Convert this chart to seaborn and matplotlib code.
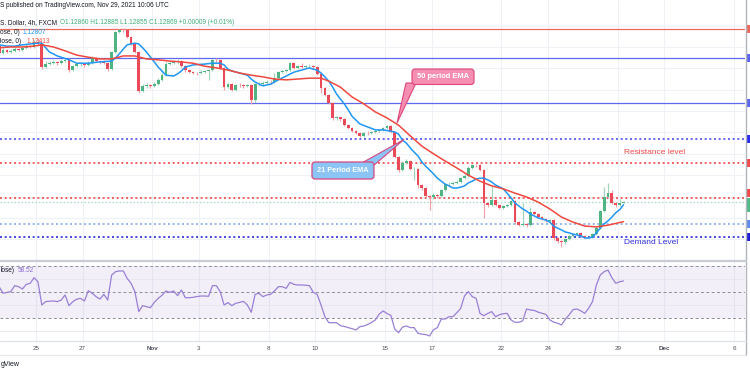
import numpy as np
import pandas as pd
import matplotlib
matplotlib.use("Agg")
import matplotlib.pyplot as plt
import seaborn as sns
from matplotlib.patches import FancyBboxPatch, Polygon, Rectangle

# ---------------- data ----------------
first_open = 1.1652
closes = [
    1.1636, 1.1643, 1.1638, 1.1641, 1.1645, 1.1643, 1.1648, 1.1652, 1.1650, 1.1662,
    1.1657, 1.1603, 1.1610, 1.1612, 1.1615, 1.1612, 1.1617, 1.1620, 1.1596, 1.1605,
    1.1610, 1.1610, 1.1608, 1.1612, 1.1624, 1.1617, 1.1615, 1.1612, 1.1598, 1.1638,
    1.1685, 1.1690, 1.1689, 1.1673, 1.1657, 1.1638, 1.1547, 1.1559, 1.1561, 1.1559,
    1.1563, 1.1573, 1.1584, 1.1610, 1.1612, 1.1615, 1.1617, 1.1605, 1.1596, 1.1591,
    1.1589, 1.1588, 1.1591, 1.1594, 1.1596, 1.1620, 1.1619, 1.1601, 1.1556, 1.1563,
    1.1549, 1.1561, 1.1560, 1.1559, 1.1561, 1.1526, 1.1563, 1.1564, 1.1566, 1.1568,
    1.1567, 1.1577, 1.1591, 1.1594, 1.1596, 1.1612, 1.1601, 1.1605, 1.1603, 1.1605,
    1.1606, 1.1603, 1.1587, 1.1554, 1.1538, 1.1519, 1.1484, 1.1485, 1.1481, 1.1467,
    1.1460, 1.1453, 1.1449, 1.1442, 1.1449, 1.1448, 1.1451, 1.1453, 1.1456, 1.1460,
    1.1465, 1.1451, 1.1393, 1.1362, 1.1379, 1.1383, 1.1364, 1.1365, 1.1327, 1.1320,
    1.1301, 1.1299, 1.1304, 1.1301, 1.1315, 1.1329, 1.1330, 1.1332, 1.1334, 1.1343,
    1.1348, 1.1367, 1.1374, 1.1373, 1.1362, 1.1285, 1.1280, 1.1292, 1.1280, 1.1273,
    1.1278, 1.1281, 1.1290, 1.1240, 1.1233, 1.1236, 1.1234, 1.1264, 1.1259, 1.1252,
    1.1247, 1.1243, 1.1245, 1.1203, 1.1196, 1.1194, 1.1201, 1.1208, 1.1212, 1.1215,
    1.1208, 1.1205, 1.1206, 1.1212, 1.1226, 1.1266, 1.1299, 1.1308, 1.1285, 1.1280,
    1.1286, 1.12869]
highs = [
    1.1657, 1.1648, 1.1645, 1.1645, 1.1650, 1.1648, 1.1652, 1.1657, 1.1655, 1.1666,
    1.1671, 1.1659, 1.1617, 1.1617, 1.1620, 1.1617, 1.1622, 1.1624, 1.1624, 1.1608,
    1.1612, 1.1615, 1.1612, 1.1617, 1.1629, 1.1627, 1.1620, 1.1620, 1.1615, 1.1641,
    1.1687, 1.1692, 1.1694, 1.1692, 1.1676, 1.1659, 1.1641, 1.1563, 1.1566, 1.1563,
    1.1568, 1.1577, 1.1589, 1.1615, 1.1617, 1.1620, 1.1622, 1.1620, 1.1608, 1.1598,
    1.1594, 1.1591, 1.1596, 1.1596, 1.1598, 1.1622, 1.1624, 1.1622, 1.1603, 1.1566,
    1.1566, 1.1563, 1.1566, 1.1563, 1.1563, 1.1563, 1.1566, 1.1568, 1.1570, 1.1573,
    1.1573, 1.1589, 1.1594, 1.1596, 1.1598, 1.1615, 1.1615, 1.1608, 1.1612, 1.1608,
    1.1610, 1.1608, 1.1605, 1.1589, 1.1556, 1.1540, 1.1521, 1.1488, 1.1486, 1.1484,
    1.1470, 1.1463, 1.1456, 1.1451, 1.1451, 1.1453, 1.1453, 1.1456, 1.1458, 1.1463,
    1.1467, 1.1467, 1.1453, 1.1395, 1.1383, 1.1388, 1.1386, 1.1369, 1.1367, 1.1329,
    1.1322, 1.1304, 1.1308, 1.1306, 1.1318, 1.1332, 1.1334, 1.1336, 1.1339, 1.1346,
    1.1353, 1.1371, 1.1376, 1.1376, 1.1376, 1.1364, 1.1287, 1.1325, 1.1294, 1.1283,
    1.1280, 1.1283, 1.1292, 1.1292, 1.1243, 1.1285, 1.1238, 1.1276, 1.1266, 1.1262,
    1.1254, 1.1250, 1.1247, 1.1247, 1.1205, 1.1198, 1.1203, 1.1210, 1.1215, 1.1217,
    1.1217, 1.1210, 1.1208, 1.1215, 1.1229, 1.1269, 1.1322, 1.1332, 1.1315, 1.1287,
    1.1294, 1.12885]
lows = [
    1.1631, 1.1634, 1.1636, 1.1636, 1.1638, 1.1641, 1.1641, 1.1645, 1.1648, 1.1648,
    1.1655, 1.1598, 1.1601, 1.1608, 1.1610, 1.1608, 1.1610, 1.1615, 1.1591, 1.1594,
    1.1603, 1.1605, 1.1603, 1.1605, 1.1610, 1.1615, 1.1610, 1.1610, 1.1594, 1.1596,
    1.1636, 1.1683, 1.1685, 1.1671, 1.1655, 1.1636, 1.1542, 1.1545, 1.1554, 1.1554,
    1.1556, 1.1561, 1.1570, 1.1582, 1.1608, 1.1610, 1.1610, 1.1603, 1.1591, 1.1589,
    1.1587, 1.1584, 1.1587, 1.1589, 1.1573, 1.1594, 1.1615, 1.1598, 1.1549, 1.1554,
    1.1547, 1.1547, 1.1556, 1.1554, 1.1556, 1.1517, 1.1521, 1.1559, 1.1561, 1.1563,
    1.1563, 1.1566, 1.1575, 1.1589, 1.1591, 1.1594, 1.1598, 1.1598, 1.1601, 1.1601,
    1.1601, 1.1598, 1.1584, 1.1542, 1.1535, 1.1517, 1.1479, 1.1479, 1.1477, 1.1465,
    1.1458, 1.1451, 1.1446, 1.1439, 1.1439, 1.1444, 1.1446, 1.1449, 1.1451, 1.1453,
    1.1458, 1.1449, 1.1390, 1.1357, 1.1360, 1.1376, 1.1362, 1.1339, 1.1320, 1.1315,
    1.1299, 1.1269, 1.1294, 1.1297, 1.1299, 1.1313, 1.1325, 1.1327, 1.1329, 1.1332,
    1.1341, 1.1346, 1.1364, 1.1369, 1.1360, 1.1250, 1.1276, 1.1278, 1.1278, 1.1271,
    1.1271, 1.1276, 1.1278, 1.1236, 1.1231, 1.1231, 1.1229, 1.1231, 1.1257, 1.1250,
    1.1245, 1.1240, 1.1240, 1.1198, 1.1191, 1.1182, 1.1189, 1.1198, 1.1205, 1.1210,
    1.1205, 1.1203, 1.1203, 1.1203, 1.1210, 1.1224, 1.1264, 1.1297, 1.1283, 1.1276,
    1.1278, 1.12855]

ema21_bars = [0, 2, 4, 6, 8, 10, 11, 12, 13, 15, 18, 20, 23, 26, 29, 30, 31, 32, 33, 35,
              36, 37, 38, 40, 41, 43, 45, 46, 47, 48, 50, 53, 55, 57, 58, 59, 60, 62, 64, 65,
              66, 68, 70, 72, 74, 76, 78, 80, 81, 82, 83, 84, 85, 86, 87, 88, 89, 90, 91, 92,
              93, 95, 97, 99, 101, 102, 103, 104, 105, 106, 107, 108, 109, 110, 111, 112, 113, 114, 115, 116,
              117, 118, 119, 120, 121, 122, 123, 124, 125, 126, 127, 128, 130, 132, 133, 134, 135, 136, 137, 139,
              141, 142, 143, 144, 145, 146, 147, 148, 149, 150, 151, 152, 153, 154, 155, 156, 157, 158, 159, 160,
              161]
ema21_vals = [1.1655, 1.1652, 1.1652, 1.1655, 1.1657, 1.1659, 1.1659, 1.1648, 1.1638, 1.1629,
              1.1620, 1.1612, 1.1612, 1.1615, 1.1617, 1.1624, 1.1634, 1.1645, 1.1655, 1.1659,
              1.1657, 1.1648, 1.1638, 1.1615, 1.1603, 1.1584, 1.1582, 1.1587, 1.1594, 1.1603,
              1.1608, 1.1610, 1.1612, 1.1612, 1.1608, 1.1598, 1.1594, 1.1589, 1.1584, 1.1575,
              1.1568, 1.1559, 1.1563, 1.1573, 1.1582, 1.1591, 1.1596, 1.1601, 1.1598, 1.1596,
              1.1589, 1.1580, 1.1570, 1.1556, 1.1540, 1.1528, 1.1517, 1.1503, 1.1488, 1.1479,
              1.1470, 1.1463, 1.1456, 1.1456, 1.1453, 1.1451, 1.1446, 1.1432, 1.1425, 1.1414,
              1.1404, 1.1395, 1.1381, 1.1371, 1.1362, 1.1353, 1.1343, 1.1336, 1.1329, 1.1325,
              1.1320, 1.1320, 1.1322, 1.1325, 1.1332, 1.1336, 1.1341, 1.1343, 1.1343, 1.1339,
              1.1334, 1.1327, 1.1318, 1.1297, 1.1285, 1.1278, 1.1271, 1.1266, 1.1259, 1.1250,
              1.1245, 1.1240, 1.1231, 1.1226, 1.1222, 1.1217, 1.1215, 1.1212, 1.1210, 1.1208,
              1.1203, 1.1203, 1.1205, 1.1215, 1.1226, 1.1236, 1.1243, 1.1252, 1.1262, 1.1269,
              1.12807]
ema50_bars = [0, 3, 6, 9, 11, 14, 17, 20, 23, 26, 29, 32, 35, 38, 41, 44, 47, 50, 53, 56,
              59, 62, 65, 68, 71, 74, 77, 80, 83, 85, 88, 91, 94, 97, 100, 103, 106, 109, 112, 115,
              118, 121, 124, 127, 130, 133, 136, 139, 142, 145, 148, 151, 154, 157, 161]
ema50_vals = [1.1648, 1.1650, 1.1650, 1.1652, 1.1655, 1.1650, 1.1641, 1.1631, 1.1626, 1.1622,
              1.1622, 1.1629, 1.1629, 1.1622, 1.1620, 1.1617, 1.1615, 1.1612, 1.1605, 1.1601,
              1.1596, 1.1589, 1.1584, 1.1580, 1.1575, 1.1573, 1.1575, 1.1577, 1.1577, 1.1570,
              1.1556, 1.1533, 1.1517, 1.1498, 1.1484, 1.1467, 1.1442, 1.1418, 1.1400, 1.1383,
              1.1367, 1.1350, 1.1336, 1.1325, 1.1318, 1.1308, 1.1299, 1.1287, 1.1271, 1.1252,
              1.1240, 1.1231, 1.1229, 1.1233, 1.12413]

rsi = [
    54.1, 49.0, 49.7, 50.3, 54.9, 54.1, 52.3, 55.9, 56.7, 61.0,
    57.9, 40.0, 42.6, 42.9, 43.1, 42.6, 43.8, 47.7, 39.5, 42.6,
    44.5, 45.1, 43.1, 51.0, 49.0, 46.4, 44.6, 48.2, 43.8, 63.0,
    65.6, 66.2, 66.2, 60.5, 56.7, 50.3, 34.9, 39.5, 38.7, 37.9,
    42.0, 45.1, 47.5, 50.8, 49.7, 50.8, 47.2, 51.5, 45.6, 45.6,
    45.9, 46.5, 46.9, 46.9, 46.7, 54.9, 54.9, 50.3, 40.0, 41.8,
    39.5, 41.3, 42.0, 42.8, 40.0, 34.4, 48.2, 49.0, 46.4, 47.7,
    48.2, 50.8, 54.1, 54.1, 52.8, 57.4, 55.9, 55.4, 55.4, 55.2,
    54.9, 49.7, 48.2, 40.0, 31.0, 26.4, 26.4, 26.4, 24.1, 23.5,
    22.6, 21.8, 20.8, 23.3, 23.8, 25.0, 26.5, 28.5, 33.0, 35.4,
    33.5, 32.0, 21.5, 18.7, 23.0, 23.8, 22.6, 22.6, 18.2, 17.6,
    17.2, 16.2, 21.0, 22.6, 29.2, 29.2, 31.0, 31.0, 34.0, 37.4,
    47.0, 50.3, 46.4, 45.1, 33.5, 31.8, 33.5, 34.9, 31.0, 32.5,
    33.3, 33.6, 28.5, 26.7, 26.7, 27.8, 36.9, 36.2, 35.8, 34.5,
    33.6, 32.8, 28.5, 26.8, 26.0, 24.6, 29.0, 32.5, 36.5, 36.9,
    35.5, 33.6, 37.5, 42.6, 55.4, 63.1, 65.6, 66.9, 61.0, 56.7,
    57.9, 58.52]

date_labels = ["25", "27", "Nov", "3", "8", "10", "15", "17", "22", "24", "29", "Dec", "6"]
date_bars = [9.5, 21.5, 39.5, 51.5, 69.5, 81.5, 99.5, 111.5, 129.5, 141.5, 159.5, 171.5, 189.5]

level_prices = [1.1693, 1.1624, 1.1518, 1.1435, 1.1378, 1.1296, 1.1236, 1.1205]
level_colors = ['#ef6a5e', '#5c68ef', '#5c68ef', '#4b4bef', '#f04a4a', '#f04a4a', '#86aaf0', '#2a2ad6']
level_dotted = [False, False, False, True, True, True, True, True]
price_grid = [1.1700, 1.1650, 1.1600, 1.1550, 1.1500, 1.1450, 1.1400, 1.1350, 1.1300, 1.1250, 1.1200, 1.1150]

# ---------------- styling / layout ----------------
sns.set_theme(style="white")
plt.rcParams['font.family'] = ['Liberation Sans', 'DejaVu Sans']

W, H = 750, 375
fig = plt.figure(figsize=(7.5, 3.75), dpi=100)
fig.patch.set_facecolor('white')

def fx(px):
    return px / W

def fy(py):
    return 1 - py / H

PX_PER_BAR = 3.878
def px_to_bar(px):
    return 9.5 + (px - 36) / PX_PER_BAR

PANE_R = 745
MAIN_BOT = 261
RSI_BOT = 341
PRICE_TOP, PRICE_BOT = 1.17599, 1.11492
RSI_TOP, RSI_LOW = 73.85, 12.3

ax = fig.add_axes([0, fy(MAIN_BOT), fx(PANE_R), MAIN_BOT / H])
axr = fig.add_axes([0, fy(RSI_BOT), fx(PANE_R), (RSI_BOT - MAIN_BOT) / H])

GRID = '#eef1f6'
for a in (ax, axr):
    a.set_facecolor('white')
    for s in a.spines.values():
        s.set_visible(False)
    a.set_xlim(px_to_bar(0), px_to_bar(PANE_R))
    for b in date_bars:
        a.axvline(b, color=GRID, lw=0.8, zorder=0)

ax.set_ylim(PRICE_BOT, PRICE_TOP)
for g in price_grid:
    ax.axhline(g, color=GRID, lw=0.8, zorder=0)

# levels
for p, col, dot in zip(level_prices, level_colors, level_dotted):
    if dot:
        ax.axhline(p, color=col, lw=1.2, ls=(0, (1.2, 1.6)), zorder=1)
    else:
        ax.axhline(p, color=col, lw=0.9, zorder=1)
ax.axhline(closes[-1], color='#a5dcc0', lw=0.9, ls=(0, (1.2, 1.6)), zorder=1)

# candles
opens = np.array([first_open] + closes[:-1])
c = np.array(closes)
h = np.array(highs)
l = np.array(lows)
bars = np.arange(len(c))
up = c >= opens
UP, DN = '#4fb382', '#ea4958'
ax.vlines(bars[up], l[up], h[up], color='#9cd5b9', lw=0.85, zorder=3)
ax.vlines(bars[~up], l[~up], h[~up], color='#f2a0a8', lw=0.85, zorder=3)
body = np.maximum(np.abs(c - opens), 0.00005)
ax.bar(bars, body, bottom=np.minimum(opens, c), width=0.72,
       color=np.where(up, UP, DN), linewidth=0, zorder=4)

# EMAs
sns.lineplot(x=ema21_bars, y=ema21_vals, ax=ax, color='#2196f3', linewidth=1.1, zorder=5)
sns.lineplot(x=ema50_bars, y=ema50_vals, ax=ax, color='#f0483e', linewidth=1.1, zorder=5)
ax.set_xticks([])
ax.set_yticks([])
ax.set_xlabel('')
ax.set_ylabel('')

# RSI pane
axr.set_ylim(RSI_LOW, RSI_TOP)
axr.axhspan(30, 70, color='#7e57c2', alpha=0.09, lw=0, zorder=0)
for g in (20, 40, 60):
    axr.axhline(g, color='#e6e8ee', lw=0.7, zorder=0)
for g in (70, 50, 30):
    axr.axhline(g, color='#8c8f99', lw=0.7, ls=(0, (3, 2.5)), zorder=1)
sns.lineplot(x=bars, y=rsi, ax=axr, color='#9a7fd6', linewidth=0.9, zorder=3)
axr.set_yticks([])
axr.set_xlabel('')
axr.set_ylabel('')
axr.set_xticks(date_bars)
axr.set_xticklabels(date_labels)
axr.tick_params(axis='x', length=0, pad=3.6, labelsize=4.5, colors='#4a4e59')
for t in axr.get_xticklabels():
    if t.get_text() in ('Nov', 'Dec'):
        t.set_fontweight('bold')

# ---------------- overlay (frame, annotations, texts) ----------------
ov = fig.add_axes([0, 0, 1, 1])
ov.set_xlim(0, W)
ov.set_ylim(H, 0)
ov.axis('off')
ov.patch.set_alpha(0)

ov.plot([745.5, 745.5], [0, 355], color='#b2b5be', lw=1)
ov.plot([0, 745.5], [261, 261], color='#c9ccd4', lw=1.6)
ov.plot([0, 745.5], [341, 341], color='#dfe1e8', lw=0.9)
ov.plot([0, 745.5], [355, 355], color='#e6e8ee', lw=0.9)

# clipped price tags at right edge
for yc, col, hh in [(28.5, '#ef6a5e', 8), (58.3, '#5c68ef', 8), (103.2, '#5c68ef', 8),
                    (139, '#2a2af0', 8), (163.3, '#f04a4a', 8), (193, '#f04a4a', 8),
                    (205, '#53b987', 14), (224, '#5f8ef0', 8), (237.3, '#1f1fd6', 8)]:
    ov.add_patch(Rectangle((746.5, yc - hh / 2), 6, hh, color=col, lw=0))

# 50 period EMA callout
ov.add_patch(Polygon([(406, 83), (416, 83), (397, 123)], closed=True,
                     fc='#f48fb1', ec='#e0457b', lw=0.8, zorder=5))
ov.add_patch(FancyBboxPatch((412, 69), 62, 15.5, boxstyle='round,pad=0,rounding_size=3',
                            fc='#f48fb1', ec='#e0457b', lw=0.8, zorder=6))
ov.text(443, 77, '50 period EMA', color='white', fontsize=5.4, fontweight='bold',
        ha='center', va='center', zorder=7)

# 21 Period EMA callout
ov.add_patch(Polygon([(360, 164), (373, 166), (404, 139.5)], closed=True,
                     fc='#8cc4f5', ec='#d6487f', lw=0.8, zorder=5))
ov.add_patch(FancyBboxPatch((312, 162), 62, 17, boxstyle='round,pad=0,rounding_size=3',
                            fc='#8cc4f5', ec='#d6487f', lw=0.9, zorder=6))
ov.text(343, 170.8, '21 Period EMA', color='white', fontsize=5.3, fontweight='bold',
        ha='center', va='center', zorder=7)

ov.text(624, 152, 'Resistance level', color='#f04a4a', fontsize=6.0, ha='left', va='center')
ov.text(624, 243, 'Demand Level', color='#2f2fd8', fontsize=6.0, ha='left', va='center')

# header texts (only the parts visible in the cropped reference)
TXT = '#131722'
FS = 4.7
ov.text(0.5, 5.5, 'S published on TradingView.com, Nov 29, 2021 10:06 UTC',
        ha='left', va='center', fontsize=FS, color=TXT)
ov.text(0.5, 23, 'S. Dollar, 4h, FXCM', ha='left', va='center', fontsize=FS, color=TXT)
ov.text(60, 23, 'O1.12860 H1.12885 L1.12855 C1.12869 +0.00009 (+0.01%)',
        ha='left', va='center', fontsize=FS, color='#3fae78')
ov.text(0.5, 32, 'ose, 0)', ha='left', va='center', fontsize=FS, color=TXT)
ov.text(23, 32, '1.12807', ha='left', va='center', fontsize=FS, color='#2196f3')
ov.text(0.5, 41.5, 'lose, 0)', ha='left', va='center', fontsize=FS, color=TXT)
ov.text(26.7, 41.5, '1.12413', ha='left', va='center', fontsize=FS, color='#f0483e')
ov.text(0.5, 270.7, 'lose)', ha='left', va='center', fontsize=FS, color=TXT)
ov.text(18, 270.7, '58.52', ha='left', va='center', fontsize=FS, color='#8e6fd0')
ov.text(0.5, 365, 'gView', ha='left', va='center', fontsize=5.0, color=TXT)

fig.savefig('out.png', dpi=100, facecolor='white')
